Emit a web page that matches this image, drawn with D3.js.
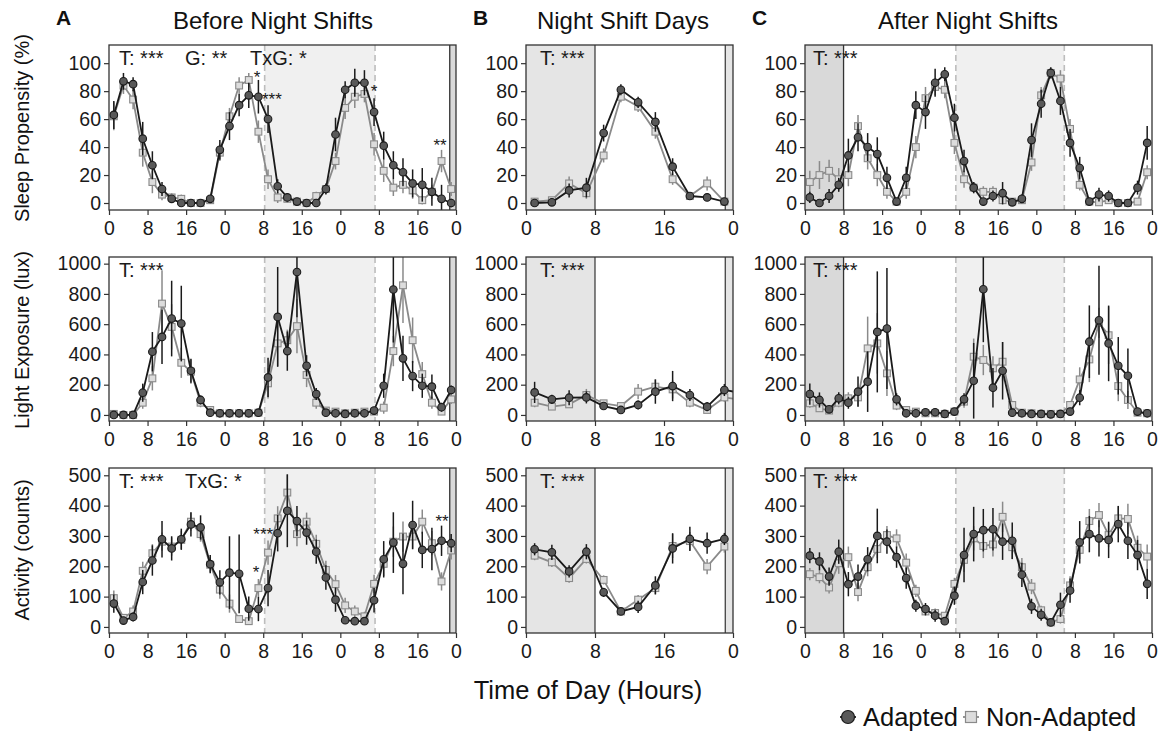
<!DOCTYPE html>
<html><head><meta charset="utf-8">
<script src="https://cdn.jsdelivr.net/npm/d3@7"></script>
<style>body{margin:0;background:#fff;font-family:"Liberation Sans",Arial,sans-serif}</style>
</head><body><svg id="c" width="1165" height="732"></svg>
<script>
// ---------- data ----------
const hours3 = [1,3,5,7,9,11,13,15,17,19,21,23,25,27,29,31,33,35,37,39,41,43,45,47,49,51,53,55,57,59,61,63,65,67,69,71];
const hours1 = [1,3,5,7,9,11,13,15,17,19,21,23];
const hours1ext = [1,3,5,7,9,11,13,15,17,19,21,23,25];
const colTitles = ["Before Night Shifts","Night Shift Days","After Night Shifts"];
const colLetters = ["A","B","C"];
const rowLabels = ["Sleep Propensity (%)","Light Exposure (lux)","Activity (counts)"];
const xTickHours3 = [0,8,16,24,32,40,48,56,64,72];
const xTickHours1 = [0,8,16,24];
const yTicksSleep = [0,20,40,60,80,100];
const yTicksLight = [0,200,400,600,800,1000];
const yTicksAct = [0,100,200,300,400,500];
const seriesNames = ["Adapted","Non-Adapted"];

// Sleep propensity
const sleepA_ad = [63,87,85,46,27,10,3,0,0,0,3,38,55,70,77,76,60,12,4,1,0,0,10,49,81,86,86,65,41,27,22,14,13,8,3,0];
const sleepA_non = [62,84,74,36,15,6,4,3,0,0,2,36,62,84,88,51,17,4,3,1,0,5,10,30,68,76,78,42,23,11,13,9,2,8,30,10];
const sleepA_ad_e = [10,6,5,12,10,5,2,1,1,1,2,7,10,8,9,12,10,5,3,1,1,1,4,12,6,10,9,10,10,10,10,10,12,10,10,3];
const sleepA_non_e = [10,6,7,10,8,4,3,3,1,1,2,6,6,6,5,8,7,4,3,2,1,3,3,6,8,8,6,8,8,6,6,6,3,5,8,5];
const sleepB_ad = [0,0.5,9,11,50,81,72,58,26,5,4,1];
const sleepB_non = [1,2,14,7,34,76,69,51,17,5,14,1];
const sleepB_ad_e = [1,1,5,7,6,4,4,7,6,2,2,1];
const sleepB_non_e = [2,2,5,4,5,4,4,5,4,2,5,2];
const sleepC_ad = [4,0,5,13,34,47,40,35,18,1,18,70,65,86,92,61,30,11,1,5,7,0.5,3,45,71,93,73,43,25,1,6,5,0,0,11,43];
const sleepC_non = [15,20,23,17,20,55,32,20,8,1,8,40,75,83,81,43,17,11,8,8,2,1,2,29,77,93,89,53,13,1,0.5,2,0,0,1,22];
const sleepC_ad_e = [4,2,5,5,12,10,10,12,8,1,8,10,12,10,5,10,8,4,1,4,8,1,3,12,10,4,10,10,8,2,5,4,1,1,5,12];
const sleepC_non_e = [8,10,8,8,8,8,8,8,5,1,5,8,8,6,6,8,6,4,4,4,2,1,2,6,6,3,6,7,4,1,1,2,1,1,1,5];

// Light exposure
const lightA_ad = [0,0,0,147,418,516,637,604,292,99,15,11,11,11,11,15,248,648,422,945,325,138,15,11,7,11,11,29,193,829,374,257,193,187,51,165];
const lightA_non = [7,0,0,81,242,736,582,345,286,81,33,11,11,11,11,15,209,473,494,587,264,81,29,22,11,15,22,22,48,422,857,494,270,81,22,103];
const lightA_ad_e = [5,5,5,60,130,180,250,250,80,30,10,5,5,5,5,10,130,330,130,300,70,40,10,5,5,5,5,10,80,350,150,100,80,80,30,30];
const lightA_non_e = [5,5,5,40,80,220,150,100,80,30,10,5,5,5,5,10,100,150,70,180,80,40,10,5,5,5,5,10,40,100,250,150,80,40,20,30];
const lightB_ad = [149,103,114,116,59,33,66,154,191,132,55,165,145];
const lightB_non = [81,55,70,132,77,59,154,187,169,81,33,116,100];
const lightB_ad_e = [70,30,50,40,20,20,30,80,100,40,30,40,40];
const lightB_non_e = [30,20,20,40,20,20,50,50,60,30,20,30,30];
const lightC_ad = [138,99,37,110,81,154,220,549,571,103,11,11,18,18,7,22,103,226,831,180,292,15,11,7,7,4,7,22,114,484,626,473,325,259,22,11];
const lightC_non = [77,44,29,81,110,116,440,473,275,62,33,22,11,11,7,22,88,385,363,308,352,66,15,11,7,7,7,66,235,367,609,527,191,99,15,11];
const lightC_ad_e = [70,50,20,40,40,100,200,400,400,40,10,5,5,5,5,10,40,250,350,130,190,10,5,5,5,5,5,10,50,240,360,250,190,180,20,10];
const lightC_non_e = [30,20,15,30,40,60,210,200,150,30,10,5,5,5,5,10,40,120,100,80,130,20,5,5,5,5,5,20,80,150,100,190,100,60,10,5];

// Activity
const actA_ad = [77,21,33,148,219,289,259,289,338,328,207,147,179,175,60,59,128,309,383,349,311,248,163,90,22,19,19,88,223,278,208,336,254,257,284,276];
const actA_non = [95,30,51,185,243,281,265,287,347,306,205,123,77,26,19,128,245,358,443,306,347,274,188,141,71,51,35,142,208,281,298,298,347,276,150,252];
const actA_ad_e = [30,10,15,40,50,60,40,35,40,40,30,40,120,130,40,40,60,60,120,50,40,40,40,40,10,10,10,40,60,100,100,80,60,70,50,30];
const actA_non_e = [25,10,20,30,30,30,30,30,30,25,25,30,30,10,10,30,40,40,60,40,30,30,30,30,25,20,15,30,40,50,50,40,40,40,30,30];
const actB_ad = [256,246,183,248,114,51,66,137,259,290,276,290];
const actB_non = [235,213,161,224,155,51,90,128,267,283,199,265];
const actB_ad_e = [20,25,20,25,15,10,20,30,50,40,35,20];
const actB_non_e = [15,15,15,15,15,10,15,20,40,30,25,20];
const actC_ad = [235,216,166,248,141,166,223,300,281,230,161,70,59,37,19,103,237,306,319,322,281,284,172,68,40,15,73,120,279,306,292,287,339,284,237,142];
const actC_non = [174,164,130,210,230,115,197,257,303,292,212,119,51,46,37,142,221,292,267,272,363,263,197,133,55,15,26,137,254,349,369,303,358,356,261,232];
const actC_ad_e = [25,30,30,40,40,40,40,90,40,35,35,20,20,20,10,30,90,90,70,70,60,60,40,25,20,10,40,40,70,60,60,60,60,60,50,50];
const actC_non_e = [20,20,20,35,35,30,30,30,30,30,30,20,15,15,10,20,40,40,40,40,50,40,30,25,15,10,15,30,30,40,40,40,40,50,40,40];

// statistics text
const statText = [
  [["T: ***","G: **","TxG: *"],["T: ***"],["T: ***"]],
  [["T: ***"],["T: ***"],["T: ***"]],
  [["T: ***","TxG: *"],["T: ***"],["T: ***"]]
];
// significance stars: [row, col, hour, value (baseline), label]
const stars = [
  [0,0,30.7,86,"*"],[0,0,33.8,70,"***"],[0,0,55,76,"*"],[0,0,68.7,37,"**"],
  [2,0,32,287,"***"],[2,0,30.5,162,"*"],[2,0,69.1,330,"**"]
];
// shaded periods (hours)
const shadeSleepA = [32.3,55.2], shadeShiftA = [70.7,72];
const shadeShiftB1 = [0,8], shadeShiftB2 = [23.1,24];
const shadeShiftC = [0,8], shadeSleepC = [31.3,53.8];

// ---------- layout ----------
const svg = d3.select("#c");
const FONT = '"Liberation Sans",Arial,sans-serif';
const cols = [
  {x0:109,x1:456,dom:[0,72],ticks:xTickHours3},
  {x0:526,x1:733,dom:[0,24],ticks:xTickHours1},
  {x0:805,x1:1152,dom:[0,72],ticks:xTickHours3}
];
const rows = [
  {y0:45,y1:210,dom:[-5,113],ticks:yTicksSleep},
  {y0:257,y1:421,dom:[-40,1044],ticks:yTicksLight},
  {y0:468,y1:633,dom:[-20,524],ticks:yTicksAct}
];
const panelData = [
  [[hours3,sleepA_ad,sleepA_ad_e,sleepA_non,sleepA_non_e],[hours1,sleepB_ad,sleepB_ad_e,sleepB_non,sleepB_non_e],[hours3,sleepC_ad,sleepC_ad_e,sleepC_non,sleepC_non_e]],
  [[hours3,lightA_ad,lightA_ad_e,lightA_non,lightA_non_e],[hours1ext,lightB_ad,lightB_ad_e,lightB_non,lightB_non_e],[hours3,lightC_ad,lightC_ad_e,lightC_non,lightC_non_e]],
  [[hours3,actA_ad,actA_ad_e,actA_non,actA_non_e],[hours1,actB_ad,actB_ad_e,actB_non,actB_non_e],[hours3,actC_ad,actC_ad_e,actC_non,actC_non_e]]
];
const statPos = [119,540,813];
const statGaps = [0,66,131];

const AD_LINE="#1a1a1a", AD_FILL="#595959", NON_LINE="#8a8a8a", NON_FILL="#dcdcdc";

rows.forEach((r,ri)=>{
  cols.forEach((c,ci)=>{
    const x = d3.scaleLinear().domain(c.dom).range([c.x0,c.x1]);
    const y = d3.scaleLinear().domain(r.dom).range([r.y1,r.y0]);
    const g = svg.append("g");
    const clipId = `clip${ri}${ci}`;
    g.append("clipPath").attr("id",clipId).append("rect")
      .attr("x",c.x0).attr("y",r.y0).attr("width",c.x1-c.x0).attr("height",r.y1-r.y0);
    const shadeRect=(h,fill)=>g.append("rect").attr("x",x(h[0])).attr("y",r.y0)
      .attr("width",x(h[1])-x(h[0])).attr("height",r.y1-r.y0).attr("fill",fill);
    const vline=(h,stroke,dash,w)=>g.append("line").attr("x1",x(h)).attr("x2",x(h))
      .attr("y1",r.y0).attr("y2",r.y1).attr("stroke",stroke).attr("stroke-width",w)
      .attr("stroke-dasharray",dash||null);
    if(ci===0){
      shadeRect(shadeSleepA,"#f0f0f0");
      shadeRect(shadeShiftA,"#d9d9d9");
      vline(shadeSleepA[0],"#bdbdbd","6,4",1.6);vline(shadeSleepA[1],"#bdbdbd","6,4",1.6);
      vline(shadeShiftA[0],"#333",null,1.3);
    } else if(ci===1){
      shadeRect(shadeShiftB1,"#e5e5e5");shadeRect(shadeShiftB2,"#e5e5e5");
      vline(shadeShiftB1[1],"#222",null,1.1);vline(shadeShiftB2[0],"#222",null,1.1);
    } else {
      shadeRect(shadeSleepC,"#f0f0f0");
      shadeRect(shadeShiftC,"#d9d9d9");
      vline(shadeSleepC[0],"#bdbdbd","6,4",1.6);vline(shadeSleepC[1],"#bdbdbd","6,4",1.6);
      vline(shadeShiftC[1],"#333",null,1.3);
    }
    // axes
    const ax = g.append("g").attr("transform",`translate(0,${r.y1})`)
      .call(d3.axisBottom(x).tickValues(c.ticks).tickFormat(d=>d%24).tickSize(5).tickPadding(6));
    const ay = g.append("g").attr("transform",`translate(${c.x0},0)`)
      .call(d3.axisLeft(y).tickValues(r.ticks).tickFormat(d3.format("d")).tickSize(5).tickPadding(3));
    [ax,ay].forEach(a=>{
      a.select(".domain").remove();
      a.selectAll(".tick line").attr("stroke","#333").attr("stroke-width",1.2);
      a.selectAll(".tick text").attr("font-size",19.5).attr("font-family",FONT).attr("fill","#1a1a1a");
    });
    // data
    const [hrs,ad,adE,non,nonE] = panelData[ri][ci];
    const dg = g.append("g").attr("clip-path",`url(#${clipId})`);
    const drawSeries=(vals,errs,lineC,fillC,shape)=>{
      const pts = hrs.map((h,i)=>({h,v:vals[i],e:errs[i]}));
      dg.append("g").selectAll("line").data(pts).join("line")
        .attr("x1",d=>x(d.h)).attr("x2",d=>x(d.h))
        .attr("y1",d=>y(d.v-d.e)).attr("y2",d=>y(d.v+d.e))
        .attr("stroke",lineC).attr("stroke-width",1.5);
      dg.append("path").datum(pts).attr("fill","none").attr("stroke",lineC).attr("stroke-width",1.8)
        .attr("d",d3.line().x(d=>x(d.h)).y(d=>y(d.v)));
      if(shape==="circle"){
        dg.append("g").selectAll("circle").data(pts).join("circle")
          .attr("cx",d=>x(d.h)).attr("cy",d=>y(d.v)).attr("r",3.8)
          .attr("fill",fillC).attr("stroke",lineC).attr("stroke-width",1.1);
      } else {
        dg.append("g").selectAll("rect").data(pts).join("rect")
          .attr("x",d=>x(d.h)-3.4).attr("y",d=>y(d.v)-3.4).attr("width",6.8).attr("height",6.8)
          .attr("fill",fillC).attr("stroke",lineC).attr("stroke-width",1.1);
      }
    };
    drawSeries(non,nonE,NON_LINE,NON_FILL,"square");
    drawSeries(ad,adE,AD_LINE,AD_FILL,"circle");
    // border
    g.append("rect").attr("x",c.x0).attr("y",r.y0).attr("width",c.x1-c.x0).attr("height",r.y1-r.y0)
      .attr("fill","none").attr("stroke","#333").attr("stroke-width",1.3);
    // stats text
    statText[ri][ci].forEach((t,k)=>{
      g.append("text").attr("x",statPos[ci]+statGaps[k]).attr("y",r.y0+20)
        .attr("font-family",FONT).attr("font-size",20).attr("fill","#1a1a1a").text(t);
    });
    // stars
    stars.filter(s=>s[0]===ri&&s[1]===ci).forEach(s=>{
      g.append("text").attr("x",x(s[2])).attr("y",y(s[3])).attr("text-anchor","middle")
        .attr("font-family",FONT).attr("font-size",17).attr("fill","#1a1a1a").text(s[4]);
    });
  });
});

// column titles
const titleX = [273,623,968];
colTitles.forEach((t,i)=>{
  svg.append("text").attr("x",titleX[i]).attr("y",29).attr("text-anchor","middle")
    .attr("font-family",FONT).attr("font-size",24).attr("fill","#111").text(t);
});
const letterX = [56,473,752];
colLetters.forEach((t,i)=>{
  svg.append("text").attr("x",letterX[i]).attr("y",25).attr("font-family",FONT)
    .attr("font-weight","bold").attr("font-size",21).attr("fill","#111").text(t);
});
// row labels
const rowLabelY = [128,340,550];
rowLabels.forEach((t,i)=>{
  svg.append("text").attr("transform",`translate(29,${rowLabelY[i]}) rotate(-90)`)
    .attr("text-anchor","middle").attr("font-family",FONT).attr("font-size",20).attr("fill","#111").text(t);
});
// x axis title
svg.append("text").attr("x",588).attr("y",699).attr("text-anchor","middle")
  .attr("font-family",FONT).attr("font-size",25.5).attr("fill","#111").text("Time of Day (Hours)");
// legend
const lg = svg.append("g");
const legendItems = [
  {name:seriesNames[0],cx:848,tx:863,line:AD_LINE,fill:AD_FILL,shape:"circle"},
  {name:seriesNames[1],cx:971,tx:986,line:NON_LINE,fill:NON_FILL,shape:"square"}
];
legendItems.forEach(it=>{
  lg.append("line").attr("x1",it.cx-8).attr("x2",it.cx+8).attr("y1",717).attr("y2",717)
    .attr("stroke",it.line).attr("stroke-width",1.8);
  if(it.shape==="circle") lg.append("circle").attr("cx",it.cx).attr("cy",717).attr("r",6.5)
    .attr("fill",it.fill).attr("stroke",it.line).attr("stroke-width",1.2);
  else lg.append("rect").attr("x",it.cx-5.5).attr("y",711.5).attr("width",11).attr("height",11)
    .attr("fill",it.fill).attr("stroke",it.line).attr("stroke-width",1.2);
  lg.append("text").attr("x",it.tx).attr("y",726).attr("font-family",FONT).attr("font-size",25.5)
    .attr("fill","#111").text(it.name);
});
</script></body></html>
